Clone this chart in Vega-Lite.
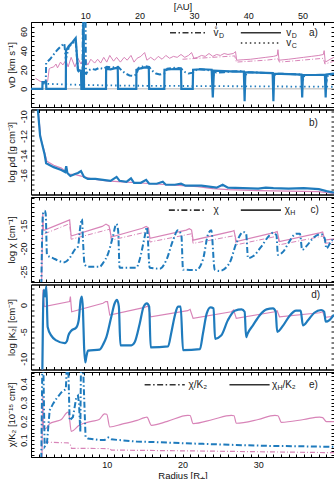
{
"$schema": "https://vega.github.io/schema/vega-lite/v6.json",
"padding": {"left": 5, "top": 0, "right": 0, "bottom": 0},
"spacing": 2.5,
"bounds": "flush",
"config": {
  "font": "Liberation Sans",
  "view": {"stroke": "#000", "strokeWidth": 1},
  "axis": {"grid": false, "labelFontSize": 9, "titleFontSize": 9.5, "titleFontWeight": "normal", "tickSize": -3, "labelPadding": 6, "titlePadding": 3, "domainColor": "#000", "tickColor": "#000", "labelColor": "#111", "titleColor": "#111", "labelOverlap": false, "labelFlush": false},
  "axisLeft": {"labelAngle": -90, "labelAlign": "center", "labelBaseline": "bottom"}
},
"datasets": {
  "one": [{}],
  "aVD": [{"r":0,"v":0},{"r":1.5,"v":0},{"r":1.52,"v":7},{"r":2.0,"v":7},{"r":2.02,"v":0},{"r":4.6,"v":0},{"r":4.62,"v":40},{"r":5.0,"v":45},{"r":5.5,"v":49},{"r":5.9,"v":53},{"r":6.2,"v":20},{"r":6.6,"v":19},{"r":6.65,"v":0},{"r":6.85,"v":0},{"r":6.9,"v":75},{"r":6.95,"v":75},{"r":7.0,"v":0},{"r":9.9,"v":0},{"r":9.92,"v":21},{"r":10.5,"v":20.5},{"r":11.0,"v":21.5},{"r":11.45,"v":22},{"r":11.5,"v":0},{"r":13.9,"v":0},{"r":13.92,"v":20},{"r":14.5,"v":21.5},{"r":15.0,"v":22.5},{"r":15.55,"v":22},{"r":15.6,"v":0},{"r":17.6,"v":0},{"r":17.62,"v":20},{"r":18.5,"v":20.5},{"r":19.2,"v":21},{"r":19.8,"v":20.5},{"r":19.85,"v":0},{"r":21.35,"v":0},{"r":21.4,"v":20},{"r":22.5,"v":20.5},{"r":23.85,"v":20},{"r":24.0,"v":-9},{"r":24.15,"v":19},{"r":25.5,"v":18.5},{"r":27,"v":18},{"r":28.1,"v":18},{"r":28.2,"v":-13},{"r":28.3,"v":17.5},{"r":30,"v":17},{"r":31.9,"v":16.5},{"r":32.0,"v":-13},{"r":32.1,"v":16},{"r":34,"v":15.5},{"r":35.7,"v":15},{"r":35.8,"v":-9},{"r":35.9,"v":14.5},{"r":37.5,"v":14.5},{"r":38.8,"v":15},{"r":38.9,"v":-9},{"r":39.0,"v":15},{"r":40,"v":16}],
  "aVDo": [{"r":1.5,"v":7},{"r":1.95,"v":7},{"r":2.0,"v":27},{"r":2.5,"v":31},{"r":3.0,"v":36},{"r":3.5,"v":41},{"r":4.0,"v":45},{"r":4.4,"v":47.5},{"r":4.6,"v":31},{"r":5.0,"v":44},{"r":5.5,"v":48},{"r":5.9,"v":50},{"r":6.2,"v":19},{"r":6.6,"v":15},{"r":6.8,"v":15},{"r":6.85,"v":75},{"r":7.2,"v":75},{"r":7.25,"v":15},{"r":7.5,"v":19},{"r":8.0,"v":21},{"r":8.5,"v":20},{"r":9.0,"v":22},{"r":9.5,"v":21},{"r":10.0,"v":23},{"r":10.8,"v":22.5},{"r":11.5,"v":23},{"r":12.0,"v":19},{"r":12.5,"v":16},{"r":13.0,"v":14},{"r":13.5,"v":13.5},{"r":13.9,"v":15},{"r":14.2,"v":22},{"r":15.0,"v":24},{"r":15.6,"v":23},{"r":16.0,"v":19},{"r":16.5,"v":16},{"r":17.0,"v":15},{"r":17.6,"v":16},{"r":18.0,"v":21},{"r":19.0,"v":22},{"r":19.8,"v":21.5},{"r":20.2,"v":18},{"r":20.8,"v":16},{"r":21.4,"v":17},{"r":22.0,"v":21},{"r":23.0,"v":20},{"r":23.9,"v":19},{"r":24.1,"v":14},{"r":24.4,"v":17},{"r":25.5,"v":17.5},{"r":27,"v":18.5},{"r":28.1,"v":18.5},{"r":28.25,"v":12},{"r":28.5,"v":17.5},{"r":30,"v":17},{"r":31.9,"v":16.5},{"r":32.05,"v":11},{"r":32.3,"v":16},{"r":34,"v":15.5},{"r":35.75,"v":15},{"r":35.9,"v":9},{"r":36.1,"v":14.5},{"r":38.0,"v":14.5},{"r":38.85,"v":14.5},{"r":38.95,"v":6},{"r":39.2,"v":14.5},{"r":40,"v":15.5}],
  "aVC": [{"r":1.6,"v":5.5},{"r":3,"v":5},{"r":6,"v":4.3},{"r":10,"v":3.6},{"r":15,"v":3.2},{"r":20,"v":3},{"r":25,"v":2.8},{"r":30,"v":2.6},{"r":35,"v":2.4},{"r":40,"v":2.2}],
  "aPink": [{"r":0.6,"v":11},{"r":1.2,"v":8},{"r":1.6,"v":7},{"r":2.2,"v":8},{"r":2.4,"v":21},{"r":2.6,"v":22},{"r":3.0,"v":23},{"r":3.3,"v":26},{"r":3.5,"v":22},{"r":3.9,"v":28},{"r":4.2,"v":25},{"r":4.6,"v":30},{"r":4.9,"v":23},{"r":5.3,"v":33},{"r":5.8,"v":23},{"r":6.2,"v":32},{"r":6.6,"v":26},{"r":7.0,"v":33},{"r":7.5,"v":25},{"r":7.9,"v":31},{"r":8.4,"v":27},{"r":8.8,"v":31},{"r":9.2,"v":27},{"r":9.6,"v":33},{"r":10.0,"v":28},{"r":10.4,"v":35},{"r":10.9,"v":29},{"r":11.3,"v":33},{"r":11.8,"v":28},{"r":12.3,"v":33},{"r":12.7,"v":30},{"r":13.2,"v":35},{"r":13.6,"v":28},{"r":14.0,"v":32},{"r":14.5,"v":34},{"r":15.0,"v":38},{"r":15.3,"v":30},{"r":15.8,"v":33},{"r":16.3,"v":30},{"r":16.8,"v":34},{"r":17.3,"v":31},{"r":17.8,"v":35},{"r":18.3,"v":32},{"r":18.8,"v":34},{"r":19.3,"v":33},{"r":19.8,"v":36},{"r":20.3,"v":33},{"r":20.8,"v":35},{"r":21.2,"v":38},{"r":21.5,"v":32},{"r":22,"v":33},{"r":22.5,"v":35},{"r":23,"v":34},{"r":23.5,"v":37},{"r":24,"v":34},{"r":24.5,"v":36},{"r":25,"v":35},{"r":25.5,"v":37},{"r":26,"v":36},{"r":26.7,"v":37},{"r":27.0,"v":39},{"r":27.15,"v":30},{"r":28,"v":30.5},{"r":29,"v":31},{"r":30,"v":32},{"r":31,"v":33},{"r":32,"v":34},{"r":32.5,"v":35},{"r":32.6,"v":41},{"r":32.75,"v":30},{"r":34,"v":31},{"r":35,"v":32},{"r":36,"v":33},{"r":37,"v":34},{"r":38,"v":35},{"r":38.6,"v":36},{"r":38.7,"v":40},{"r":38.85,"v":28},{"r":39.5,"v":31},{"r":40,"v":33}],
  "aPinkDD": [{"r":20,"v":31},{"r":22,"v":32},{"r":24,"v":33},{"r":26.9,"v":34.5},{"r":27.1,"v":28},{"r":29,"v":29},{"r":31,"v":30},{"r":32.6,"v":31.5},{"r":32.8,"v":28},{"r":35,"v":29.5},{"r":38.6,"v":32},{"r":38.8,"v":26},{"r":40,"v":29}],
  "bBlue": [{"r":0.85,"v":-8.8},{"r":1.2,"v":-12.0},{"r":1.8,"v":-13.9},{"r":2.0,"v":-14.8},{"r":2.5,"v":-15.0},{"r":3.0,"v":-15.2},{"r":4.0,"v":-15.5},{"r":4.5,"v":-15.7},{"r":4.65,"v":-15.1},{"r":4.8,"v":-15.8},{"r":5.2,"v":-16.1},{"r":5.8,"v":-15.9},{"r":6.2,"v":-15.8},{"r":6.6,"v":-15.6},{"r":7.0,"v":-16.2},{"r":7.5,"v":-16.4},{"r":8.5,"v":-16.4},{"r":9.5,"v":-16.5},{"r":10.5,"v":-16.6},{"r":11.3,"v":-16.2},{"r":11.7,"v":-16.6},{"r":12.6,"v":-16.7},{"r":13.2,"v":-16.35},{"r":13.6,"v":-16.8},{"r":14.5,"v":-16.8},{"r":15.2,"v":-16.5},{"r":15.6,"v":-16.9},{"r":16.6,"v":-16.9},{"r":17.4,"v":-16.7},{"r":17.8,"v":-17.0},{"r":19.0,"v":-17.0},{"r":19.8,"v":-16.9},{"r":20.4,"v":-17.1},{"r":22.5,"v":-17.1},{"r":23.5,"v":-17.2},{"r":24.5,"v":-17.3},{"r":25.3,"v":-17.0},{"r":26.0,"v":-17.3},{"r":28,"v":-17.35},{"r":30,"v":-17.4},{"r":31,"v":-17.3},{"r":32,"v":-17.35},{"r":34,"v":-17.4},{"r":36,"v":-17.35},{"r":38,"v":-17.45},{"r":39,"v":-17.65},{"r":40,"v":-17.8}],
  "bPink": [{"r":0.9,"v":-9.0},{"r":1.3,"v":-12.3},{"r":1.8,"v":-13.7},{"r":2.1,"v":-14.6},{"r":3.0,"v":-15.0},{"r":4.0,"v":-15.3},{"r":5.0,"v":-15.9},{"r":6.0,"v":-16.0},{"r":7.0,"v":-16.2},{"r":8.0,"v":-16.4},{"r":10,"v":-16.6},{"r":12,"v":-16.7},{"r":14,"v":-16.8},{"r":16,"v":-16.9},{"r":18,"v":-17.0},{"r":20,"v":-17.1},{"r":22,"v":-17.2},{"r":24,"v":-17.4},{"r":26,"v":-17.5},{"r":28,"v":-17.55},{"r":30,"v":-17.6},{"r":34,"v":-17.65},{"r":38,"v":-17.7},{"r":40,"v":-17.9}],
  "cBlue": [{"r":1.36,"v":-28},{"r":1.58,"v":-12.5},{"r":1.8,"v":-11.8},{"r":1.94,"v":-12.5},{"r":2.11,"v":-21.4},{"r":2.9,"v":-22.1},{"r":4.44,"v":-23.0},{"r":5.1,"v":-22.1},{"r":5.76,"v":-20.3},{"r":6.2,"v":-19.6},{"r":6.5,"v":-15.35},{"r":6.73,"v":-13.6},{"r":6.86,"v":-18.2},{"r":7.08,"v":-23.5},{"r":7.52,"v":-24.0},{"r":9.06,"v":-24.0},{"r":9.5,"v":-23.2},{"r":10.2,"v":-21.0},{"r":10.8,"v":-17.5},{"r":11.27,"v":-14.65},{"r":11.5,"v":-16.06},{"r":11.7,"v":-24.2},{"r":13.9,"v":-24.2},{"r":14.35,"v":-22.4},{"r":15.0,"v":-17.5},{"r":15.3,"v":-15.35},{"r":15.67,"v":-24.2},{"r":17.0,"v":-24.4},{"r":17.9,"v":-22.4},{"r":18.75,"v":-18.2},{"r":19.4,"v":-16.06},{"r":19.85,"v":-17.1},{"r":20.07,"v":-24.6},{"r":21.8,"v":-24.7},{"r":22.7,"v":-22.4},{"r":23.4,"v":-16.8},{"r":23.8,"v":-16.06},{"r":24.25,"v":-24.6},{"r":24.9,"v":-24.9},{"r":26.2,"v":-23.2},{"r":27.1,"v":-18.9},{"r":28.0,"v":-16.4},{"r":28.4,"v":-16.8},{"r":28.65,"v":-22.1},{"r":29.3,"v":-21.7},{"r":30.4,"v":-19.6},{"r":31.5,"v":-17.1},{"r":31.95,"v":-16.6},{"r":32.4,"v":-17.1},{"r":32.6,"v":-21.4},{"r":33.3,"v":-20.7},{"r":34.1,"v":-18.5},{"r":35.0,"v":-16.8},{"r":35.5,"v":-16.8},{"r":35.8,"v":-20.3},{"r":36.3,"v":-19.6},{"r":37.4,"v":-17.5},{"r":38.3,"v":-16.9},{"r":38.77,"v":-17.8},{"r":39.0,"v":-20.0},{"r":39.6,"v":-18.5},{"r":40,"v":-17.8}],
  "cPink": [{"r":1.4,"v":-28},{"r":1.55,"v":-12.5},{"r":1.65,"v":-16.0},{"r":1.8,"v":-16.0},{"r":5.1,"v":-13.8},{"r":5.3,"v":-17.3},{"r":9.4,"v":-15.2},{"r":9.9,"v":-14.7},{"r":10.3,"v":-15.1},{"r":10.6,"v":-17.5},{"r":14.7,"v":-15.6},{"r":15.2,"v":-15.2},{"r":15.5,"v":-15.5},{"r":15.7,"v":-17.8},{"r":20.5,"v":-16.0},{"r":20.9,"v":-15.7},{"r":21.2,"v":-16.0},{"r":21.4,"v":-18.2},{"r":26.5,"v":-16.3},{"r":26.8,"v":-16.1},{"r":27.1,"v":-18.5},{"r":32.2,"v":-16.5},{"r":32.5,"v":-16.3},{"r":32.8,"v":-18.5},{"r":38.1,"v":-16.6},{"r":38.5,"v":-16.4},{"r":38.8,"v":-18.2},{"r":40,"v":-17.9}],
  "cPinkDD": [{"r":1.8,"v":-16.8},{"r":5.1,"v":-14.6},{"r":5.3,"v":-18.0},{"r":10.4,"v":-15.8},{"r":10.6,"v":-18.2},{"r":15.5,"v":-16.3},{"r":15.7,"v":-18.6},{"r":21.2,"v":-16.8},{"r":21.4,"v":-18.9},{"r":26.9,"v":-17.2},{"r":27.1,"v":-19.2},{"r":32.6,"v":-17.3},{"r":32.8,"v":-19.2},{"r":38.6,"v":-17.3},{"r":38.8,"v":-18.9},{"r":40,"v":-18.6}],
  "dBlue": [{"r":1.5,"v":-12.5},{"r":1.67,"v":2.8},{"r":1.85,"v":1.6},{"r":2.02,"v":3.46},{"r":2.2,"v":-4.1},{"r":2.68,"v":-5.7},{"r":3.34,"v":-6.6},{"r":4.44,"v":-7.1},{"r":4.75,"v":-6.7},{"r":4.93,"v":-5.7},{"r":5.32,"v":-4.8},{"r":5.98,"v":-4.2},{"r":6.3,"v":-2.8},{"r":6.56,"v":0.94},{"r":6.73,"v":1.57},{"r":6.86,"v":-0.94},{"r":7.0,"v":-7.5},{"r":7.17,"v":-10.7},{"r":7.3,"v":-9.7},{"r":7.52,"v":-8.5},{"r":9.06,"v":-8.3},{"r":9.5,"v":-7.4},{"r":9.95,"v":-6.0},{"r":10.6,"v":-2.2},{"r":11.05,"v":0.31},{"r":11.35,"v":0.94},{"r":11.6,"v":-0.31},{"r":11.8,"v":-7.5},{"r":13.25,"v":-7.5},{"r":13.7,"v":-6.9},{"r":14.35,"v":-3.5},{"r":14.87,"v":-0.31},{"r":15.3,"v":0.31},{"r":15.6,"v":-0.31},{"r":15.8,"v":-7.9},{"r":18.1,"v":-7.7},{"r":18.5,"v":-5.3},{"r":19.0,"v":-1.9},{"r":19.4,"v":-0.31},{"r":19.76,"v":-0.31},{"r":20.07,"v":-8.4},{"r":22.3,"v":-8.2},{"r":22.7,"v":-5.3},{"r":23.2,"v":-1.57},{"r":23.7,"v":-0.44},{"r":24.1,"v":-0.63},{"r":24.3,"v":-6.3},{"r":25.1,"v":-5.7},{"r":26.0,"v":-2.8},{"r":26.9,"v":-1.07},{"r":27.8,"v":-0.82},{"r":28.2,"v":-1.26},{"r":28.4,"v":-6.0},{"r":28.6,"v":-5.3},{"r":29.3,"v":-3.8},{"r":30.2,"v":-1.9},{"r":31.1,"v":-0.82},{"r":31.95,"v":-0.63},{"r":32.3,"v":-1.26},{"r":32.5,"v":-5.0},{"r":33.3,"v":-3.8},{"r":34.1,"v":-2.1},{"r":35.0,"v":-1.07},{"r":35.6,"v":-1.07},{"r":35.9,"v":-3.8},{"r":36.6,"v":-2.8},{"r":37.4,"v":-1.45},{"r":38.3,"v":-0.94},{"r":38.7,"v":-1.26},{"r":38.9,"v":-3.1},{"r":39.4,"v":-2.8},{"r":40,"v":-1.8}],
  "dPink": [{"r":1.5,"v":-12.5},{"r":1.58,"v":2.83},{"r":1.76,"v":-0.31},{"r":5.1,"v":0.63},{"r":5.2,"v":1.57},{"r":5.37,"v":-1.26},{"r":9.5,"v":0.31},{"r":9.86,"v":0.63},{"r":10.1,"v":0.63},{"r":10.4,"v":-1.89},{"r":15.0,"v":-0.44},{"r":15.45,"v":-0.19},{"r":15.8,"v":-2.2},{"r":20.7,"v":-1.07},{"r":21.0,"v":-0.82},{"r":21.4,"v":-2.5},{"r":26.45,"v":-1.26},{"r":26.75,"v":-0.94},{"r":27.1,"v":-2.5},{"r":32.2,"v":-1.26},{"r":32.5,"v":-1.07},{"r":32.8,"v":-2.2},{"r":38.1,"v":-1.45},{"r":38.5,"v":-1.26},{"r":38.8,"v":-2.3},{"r":40,"v":-2.1}],
  "eBlue": [{"r":1.36,"v":0.0},{"r":1.5,"v":0.52},{"r":1.62,"v":0.52},{"r":1.8,"v":0.065},{"r":2.1,"v":0.082},{"r":2.46,"v":0.258},{"r":2.9,"v":0.293},{"r":3.34,"v":0.32},{"r":4.0,"v":0.354},{"r":4.6,"v":0.372},{"r":4.75,"v":0.52},{"r":4.9,"v":0.52},{"r":5.1,"v":0.205},{"r":5.54,"v":0.223},{"r":5.98,"v":0.328},{"r":6.2,"v":0.337},{"r":6.34,"v":0.293},{"r":6.51,"v":0.144},{"r":6.6,"v":0.52},{"r":6.85,"v":0.52},{"r":7.2,"v":0.118},{"r":7.52,"v":0.109},{"r":9.06,"v":0.1},{"r":9.7,"v":0.1},{"r":10.2,"v":0.114},{"r":10.6,"v":0.104},{"r":11.7,"v":0.1},{"r":13.9,"v":0.092},{"r":16.1,"v":0.09},{"r":18.3,"v":0.086},{"r":22.7,"v":0.08},{"r":27.1,"v":0.074},{"r":31.5,"v":0.069},{"r":35.9,"v":0.067},{"r":40,"v":0.064}],
  "ePink": [{"r":1.45,"v":0.0},{"r":1.55,"v":0.35},{"r":1.65,"v":0.16},{"r":1.85,"v":0.16},{"r":2.5,"v":0.188},{"r":3.3,"v":0.2},{"r":4.0,"v":0.21},{"r":4.88,"v":0.249},{"r":5.0,"v":0.24},{"r":5.32,"v":0.147},{"r":6.4,"v":0.18},{"r":8.0,"v":0.2},{"r":9.0,"v":0.21},{"r":9.7,"v":0.24},{"r":10.0,"v":0.238},{"r":10.4,"v":0.17},{"r":12,"v":0.185},{"r":14,"v":0.205},{"r":15.0,"v":0.22},{"r":15.3,"v":0.222},{"r":15.9,"v":0.179},{"r":18,"v":0.2},{"r":20.7,"v":0.232},{"r":21.0,"v":0.231},{"r":21.4,"v":0.188},{"r":24,"v":0.21},{"r":26.45,"v":0.232},{"r":26.8,"v":0.23},{"r":27.1,"v":0.19},{"r":30,"v":0.21},{"r":32.2,"v":0.232},{"r":32.6,"v":0.23},{"r":33.05,"v":0.195},{"r":36,"v":0.21},{"r":38.1,"v":0.223},{"r":38.5,"v":0.22},{"r":39.0,"v":0.198},{"r":40,"v":0.198}],
  "ePinkDD": [{"r":1.7,"v":0.09},{"r":4.9,"v":0.085},{"r":5.2,"v":0.075},{"r":5.35,"v":0.056},{"r":10.4,"v":0.055},{"r":10.6,"v":0.047},{"r":20,"v":0.043},{"r":30,"v":0.038},{"r":40,"v":0.033}]
},
"vconcat": [
{
  "width": 303, "height": 85,
  "resolve": {"axis": {"x": "independent", "y": "independent"}},
  "layer": [
    {"data": {"name": "one"}, "mark": {"type": "rule", "color": "#b4b4b4", "strokeWidth": 1}, "encoding": {"y": {"datum": 0, "type": "quantitative", "axis": null}}},
    {"data": {"name": "aPink"}, "mark": {"type": "line", "color": "#d884b8", "strokeWidth": 1, "clip": true},
     "encoding": {
       "x": {"field": "r", "type": "quantitative", "scale": {"domain": [0, 40], "nice": false, "zero": false}, "axis": {"orient": "bottom", "values": [1,2,3,4,5,6,7,8,9,10,11,12,13,14,15,16,17,18,19,20,21,22,23,24,25,26,27,28,29,30,31,32,33,34,35,36,37,38,39], "labels": false, "title": null}},
       "y": {"field": "v", "type": "quantitative", "scale": {"domain": [-19, 70], "nice": false, "zero": false}, "axis": {"orient": "left", "values": [-15,-10,-5,0,5,10,15,20,25,30,35,40,45,50,55,60,65], "labelExpr": "datum.value % 20 === 0 ? '' + datum.value : ''", "title": "vD [km s⁻¹]"}}}},
    {"data": {"name": "aPinkDD"}, "mark": {"type": "line", "color": "#d884b8", "strokeWidth": 1, "strokeDash": [5, 2, 1, 2], "clip": true},
     "encoding": {
       "x": {"field": "r", "type": "quantitative", "axis": {"orient": "top", "values": [1.434,2.867,4.301,5.735,7.168,8.602,10.036,11.470,12.903,14.337,15.771,17.204,18.638,20.072,21.505,22.939,24.373,25.806,27.240,28.674,30.108,31.541,32.975,34.409,35.842,37.276,38.710], "labelExpr": "round(datum.value * 1.395) % 10 === 0 ? '' + round(datum.value * 1.395) : ''", "labelPadding": 5, "title": "[AU]", "titlePadding": 0}},
       "y": {"field": "v", "type": "quantitative", "axis": {"orient": "right", "values": [-15,-10,-5,0,5,10,15,20,25,30,35,40,45,50,55,60,65], "labels": false, "title": null}}}},
    {"data": {"name": "aVC"}, "mark": {"type": "line", "color": "#1f7bbd", "strokeWidth": 1.8, "strokeDash": [1.5, 3], "clip": true},
     "encoding": {"x": {"field": "r", "type": "quantitative", "axis": null}, "y": {"field": "v", "type": "quantitative", "axis": null}}},
    {"data": {"name": "aVDo"}, "mark": {"type": "line", "color": "#1f7bbd", "strokeWidth": 2, "strokeDash": [6, 2.5, 1.5, 2.5], "clip": true},
     "encoding": {"x": {"field": "r", "type": "quantitative", "axis": null}, "y": {"field": "v", "type": "quantitative", "axis": null}}},
    {"data": {"name": "aVD"}, "mark": {"type": "line", "color": "#1f7bbd", "strokeWidth": 2.2, "clip": true},
     "encoding": {"x": {"field": "r", "type": "quantitative", "axis": null}, "y": {"field": "v", "type": "quantitative", "axis": null}}},
    {"data": {"name": "one"}, "mark": {"type": "rule", "color": "#333", "strokeWidth": 1.6, "strokeDash": [6, 2.5, 1.5, 2.5]},
     "encoding": {"x": {"datum": 18.35, "type": "quantitative", "axis": null}, "x2": {"datum": 23.1}, "y": {"datum": 58.8, "type": "quantitative", "axis": null}}},
    {"data": {"name": "one"}, "mark": {"type": "rule", "color": "#333", "strokeWidth": 1.6},
     "encoding": {"x": {"datum": 27.7, "type": "quantitative", "axis": null}, "x2": {"datum": 33.0}, "y": {"datum": 58.8, "type": "quantitative", "axis": null}}},
    {"data": {"name": "one"}, "mark": {"type": "rule", "color": "#333", "strokeWidth": 1.6, "strokeDash": [1.5, 3]},
     "encoding": {"x": {"datum": 27.7, "type": "quantitative", "axis": null}, "x2": {"datum": 33.0}, "y": {"datum": 48, "type": "quantitative", "axis": null}}},
    {"data": {"name": "one"}, "mark": {"type": "text", "text": "v̊", "align": "left", "baseline": "middle", "fontSize": 10, "color": "#222"},
     "encoding": {"x": {"datum": 24.1, "type": "quantitative", "axis": null}, "y": {"datum": 58.8, "type": "quantitative", "axis": null}}},
    {"data": {"name": "one"}, "mark": {"type": "text", "text": "D", "align": "left", "baseline": "middle", "fontSize": 7, "dx": 5.5, "dy": 3, "color": "#222"},
     "encoding": {"x": {"datum": 24.1, "type": "quantitative", "axis": null}, "y": {"datum": 58.8, "type": "quantitative", "axis": null}}},
    {"data": {"name": "one"}, "mark": {"type": "text", "text": "v", "align": "left", "baseline": "middle", "fontSize": 10, "color": "#222"},
     "encoding": {"x": {"datum": 33.7, "type": "quantitative", "axis": null}, "y": {"datum": 58.8, "type": "quantitative", "axis": null}}},
    {"data": {"name": "one"}, "mark": {"type": "text", "text": "D", "align": "left", "baseline": "middle", "fontSize": 7, "dx": 5.5, "dy": 3, "color": "#222"},
     "encoding": {"x": {"datum": 33.7, "type": "quantitative", "axis": null}, "y": {"datum": 58.8, "type": "quantitative", "axis": null}}},
    {"data": {"name": "one"}, "mark": {"type": "text", "text": "v", "align": "left", "baseline": "middle", "fontSize": 10, "color": "#222"},
     "encoding": {"x": {"datum": 33.7, "type": "quantitative", "axis": null}, "y": {"datum": 48, "type": "quantitative", "axis": null}}},
    {"data": {"name": "one"}, "mark": {"type": "text", "text": "C", "align": "left", "baseline": "middle", "fontSize": 7, "dx": 5.5, "dy": 3, "color": "#222"},
     "encoding": {"x": {"datum": 33.7, "type": "quantitative", "axis": null}, "y": {"datum": 48, "type": "quantitative", "axis": null}}},
    {"data": {"name": "one"}, "mark": {"type": "text", "text": "a)", "align": "left", "baseline": "middle", "fontSize": 10, "color": "#222"},
     "encoding": {"x": {"datum": 36.7, "type": "quantitative", "axis": null}, "y": {"datum": 58.8, "type": "quantitative", "axis": null}}}
  ]
},
{
  "width": 303, "height": 85,
  "resolve": {"axis": {"x": "independent", "y": "independent"}},
  "layer": [
    {"data": {"name": "bPink"}, "mark": {"type": "line", "color": "#d884b8", "strokeWidth": 1.2, "clip": true},
     "encoding": {
       "x": {"field": "r", "type": "quantitative", "scale": {"domain": [0, 40], "nice": false, "zero": false}, "axis": {"orient": "bottom", "values": [1,2,3,4,5,6,7,8,9,10,11,12,13,14,15,16,17,18,19,20,21,22,23,24,25,26,27,28,29,30,31,32,33,34,35,36,37,38,39], "labels": false, "title": null}},
       "y": {"field": "v", "type": "quantitative", "scale": {"domain": [-18, -9.3], "nice": false, "zero": false}, "axis": {"orient": "left", "values": [-17.5,-17,-16.5,-16,-15.5,-15,-14.5,-14,-13.5,-13,-12.5,-12,-11.5,-11,-10.5,-10,-9.5], "labelExpr": "datum.value % 2 === 0 && datum.value > -17 ? '' + datum.value : ''", "title": "log ρd [g cm⁻³]"}}}},
    {"data": {"name": "bBlue"}, "mark": {"type": "line", "color": "#1f7bbd", "strokeWidth": 2.2, "clip": true},
     "encoding": {
       "x": {"field": "r", "type": "quantitative", "axis": {"orient": "top", "values": [1,2,3,4,5,6,7,8,9,10,11,12,13,14,15,16,17,18,19,20,21,22,23,24,25,26,27,28,29,30,31,32,33,34,35,36,37,38,39], "labels": false, "title": null}},
       "y": {"field": "v", "type": "quantitative", "axis": {"orient": "right", "values": [-17.5,-17,-16.5,-16,-15.5,-15,-14.5,-14,-13.5,-13,-12.5,-12,-11.5,-11,-10.5,-10,-9.5], "labels": false, "title": null}}}},
    {"data": {"name": "one"}, "mark": {"type": "text", "text": "b)", "align": "left", "baseline": "middle", "fontSize": 10, "color": "#222"},
     "encoding": {"x": {"datum": 36.7, "type": "quantitative", "axis": null}, "y": {"datum": -10.7, "type": "quantitative", "axis": null}}}
  ]
},
{
  "width": 303, "height": 85,
  "resolve": {"axis": {"x": "independent", "y": "independent"}},
  "layer": [
    {"data": {"name": "cPinkDD"}, "mark": {"type": "line", "color": "#d884b8", "strokeWidth": 1, "strokeDash": [5, 2, 1, 2], "clip": true},
     "encoding": {
       "x": {"field": "r", "type": "quantitative", "scale": {"domain": [0, 40], "nice": false, "zero": false}, "axis": {"orient": "bottom", "values": [1,2,3,4,5,6,7,8,9,10,11,12,13,14,15,16,17,18,19,20,21,22,23,24,25,26,27,28,29,30,31,32,33,34,35,36,37,38,39], "labels": false, "title": null}},
       "y": {"field": "v", "type": "quantitative", "scale": {"domain": [-27.3, -8.8], "nice": false, "zero": false}, "axis": {"orient": "left", "values": [-27,-26,-25,-24,-23,-22,-21,-20,-19,-18,-17,-16,-15,-14,-13,-12,-11,-10,-9], "labelExpr": "datum.value % 5 === 0 && datum.value <= -15 ? '' + datum.value : ''", "title": "log χ [cm⁻¹]"}}}},
    {"data": {"name": "cPink"}, "mark": {"type": "line", "color": "#d884b8", "strokeWidth": 1.2, "clip": true},
     "encoding": {
       "x": {"field": "r", "type": "quantitative", "axis": {"orient": "top", "values": [1,2,3,4,5,6,7,8,9,10,11,12,13,14,15,16,17,18,19,20,21,22,23,24,25,26,27,28,29,30,31,32,33,34,35,36,37,38,39], "labels": false, "title": null}},
       "y": {"field": "v", "type": "quantitative", "axis": {"orient": "right", "values": [-27,-26,-25,-24,-23,-22,-21,-20,-19,-18,-17,-16,-15,-14,-13,-12,-11,-10,-9], "labels": false, "title": null}}}},
    {"data": {"name": "cBlue"}, "mark": {"type": "line", "color": "#1f7bbd", "strokeWidth": 2, "strokeDash": [6, 2.5, 1.5, 2.5], "interpolate": "monotone", "clip": true},
     "encoding": {"x": {"field": "r", "type": "quantitative", "axis": null}, "y": {"field": "v", "type": "quantitative", "axis": null}}},
    {"data": {"name": "one"}, "mark": {"type": "rule", "color": "#333", "strokeWidth": 1.6, "strokeDash": [6, 2.5, 1.5, 2.5]},
     "encoding": {"x": {"datum": 18.2, "type": "quantitative", "axis": null}, "x2": {"datum": 23.1}, "y": {"datum": -11.66, "type": "quantitative", "axis": null}}},
    {"data": {"name": "one"}, "mark": {"type": "rule", "color": "#333", "strokeWidth": 1.6},
     "encoding": {"x": {"datum": 27.7, "type": "quantitative", "axis": null}, "x2": {"datum": 33.0}, "y": {"datum": -11.66, "type": "quantitative", "axis": null}}},
    {"data": {"name": "one"}, "mark": {"type": "text", "text": "χ", "align": "left", "baseline": "middle", "fontSize": 10, "color": "#222"},
     "encoding": {"x": {"datum": 24.1, "type": "quantitative", "axis": null}, "y": {"datum": -11.66, "type": "quantitative", "axis": null}}},
    {"data": {"name": "one"}, "mark": {"type": "text", "text": "χ", "align": "left", "baseline": "middle", "fontSize": 10, "color": "#222"},
     "encoding": {"x": {"datum": 33.5, "type": "quantitative", "axis": null}, "y": {"datum": -11.66, "type": "quantitative", "axis": null}}},
    {"data": {"name": "one"}, "mark": {"type": "text", "text": "H", "align": "left", "baseline": "middle", "fontSize": 7, "dx": 5.5, "dy": 3, "color": "#222"},
     "encoding": {"x": {"datum": 33.5, "type": "quantitative", "axis": null}, "y": {"datum": -11.66, "type": "quantitative", "axis": null}}},
    {"data": {"name": "one"}, "mark": {"type": "text", "text": "c)", "align": "left", "baseline": "middle", "fontSize": 10, "color": "#222"},
     "encoding": {"x": {"datum": 36.9, "type": "quantitative", "axis": null}, "y": {"datum": -11.66, "type": "quantitative", "axis": null}}}
  ]
},
{
  "width": 303, "height": 85,
  "resolve": {"axis": {"x": "independent", "y": "independent"}},
  "layer": [
    {"data": {"name": "dPink"}, "mark": {"type": "line", "color": "#d884b8", "strokeWidth": 1.2, "clip": true},
     "encoding": {
       "x": {"field": "r", "type": "quantitative", "scale": {"domain": [0, 40], "nice": false, "zero": false}, "axis": {"orient": "bottom", "values": [1,2,3,4,5,6,7,8,9,10,11,12,13,14,15,16,17,18,19,20,21,22,23,24,25,26,27,28,29,30,31,32,33,34,35,36,37,38,39], "labels": false, "title": null}},
       "y": {"field": "v", "type": "quantitative", "scale": {"domain": [-12, 3.8], "nice": false, "zero": false}, "axis": {"orient": "left", "values": [-11,-10,-9,-8,-7,-6,-5,-4,-3,-2,-1,0,1,2,3], "labelExpr": "datum.value % 5 === 0 ? '' + datum.value : ''", "title": "log |K₂| [cm⁻³]"}}}},
    {"data": {"name": "dBlue"}, "mark": {"type": "line", "color": "#1f7bbd", "strokeWidth": 2.2, "interpolate": "monotone", "clip": true},
     "encoding": {
       "x": {"field": "r", "type": "quantitative", "axis": {"orient": "top", "values": [1,2,3,4,5,6,7,8,9,10,11,12,13,14,15,16,17,18,19,20,21,22,23,24,25,26,27,28,29,30,31,32,33,34,35,36,37,38,39], "labels": false, "title": null}},
       "y": {"field": "v", "type": "quantitative", "axis": {"orient": "right", "values": [-11,-10,-9,-8,-7,-6,-5,-4,-3,-2,-1,0,1,2,3], "labels": false, "title": null}}}},
    {"data": {"name": "one"}, "mark": {"type": "text", "text": "d)", "align": "left", "baseline": "middle", "fontSize": 10, "color": "#222"},
     "encoding": {"x": {"datum": 37.0, "type": "quantitative", "axis": null}, "y": {"datum": 1.9, "type": "quantitative", "axis": null}}}
  ]
},
{
  "width": 303, "height": 85,
  "resolve": {"axis": {"x": "independent", "y": "independent"}},
  "layer": [
    {"data": {"name": "ePinkDD"}, "mark": {"type": "line", "color": "#d884b8", "strokeWidth": 1.2, "strokeDash": [5, 2, 1, 2], "clip": true},
     "encoding": {
       "x": {"field": "r", "type": "quantitative", "scale": {"domain": [0, 40], "nice": false, "zero": false}, "axis": {"orient": "bottom", "values": [1,2,3,4,5,6,7,8,9,10,11,12,13,14,15,16,17,18,19,20,21,22,23,24,25,26,27,28,29,30,31,32,33,34,35,36,37,38,39], "labelExpr": "datum.value % 10 === 0 ? '' + datum.value : ''", "title": "Radius [R⁎]", "titlePadding": 1}},
       "y": {"field": "v", "type": "quantitative", "scale": {"domain": [0.01, 0.463], "nice": false, "zero": false}, "axis": {"orient": "left", "values": [0.02,0.04,0.06,0.08,0.1,0.12,0.14,0.16,0.18,0.2,0.22,0.24,0.26,0.28,0.3,0.32,0.34,0.36,0.38,0.4,0.42,0.44,0.46], "labelExpr": "abs(datum.value * 10 - round(datum.value * 10)) < 0.001 ? format(datum.value, '.1f') : ''", "title": "χ/K₂ [10⁻¹⁵ cm²]"}}}},
    {"data": {"name": "ePink"}, "mark": {"type": "line", "color": "#d884b8", "strokeWidth": 1.2, "interpolate": "monotone", "clip": true},
     "encoding": {
       "x": {"field": "r", "type": "quantitative", "axis": {"orient": "top", "values": [1,2,3,4,5,6,7,8,9,10,11,12,13,14,15,16,17,18,19,20,21,22,23,24,25,26,27,28,29,30,31,32,33,34,35,36,37,38,39], "labels": false, "title": null}},
       "y": {"field": "v", "type": "quantitative", "axis": {"orient": "right", "values": [0.02,0.04,0.06,0.08,0.1,0.12,0.14,0.16,0.18,0.2,0.22,0.24,0.26,0.28,0.3,0.32,0.34,0.36,0.38,0.4,0.42,0.44,0.46], "labels": false, "title": null}}}},
    {"data": {"name": "eBlue"}, "mark": {"type": "line", "color": "#1f7bbd", "strokeWidth": 2, "strokeDash": [6, 2.5, 1.5, 2.5], "clip": true},
     "encoding": {"x": {"field": "r", "type": "quantitative", "axis": null}, "y": {"field": "v", "type": "quantitative", "axis": null}}},
    {"data": {"name": "one"}, "mark": {"type": "rule", "color": "#333", "strokeWidth": 1.6, "strokeDash": [6, 2.5, 1.5, 2.5]},
     "encoding": {"x": {"datum": 15.0, "type": "quantitative", "axis": null}, "x2": {"datum": 20.3}, "y": {"datum": 0.395, "type": "quantitative", "axis": null}}},
    {"data": {"name": "one"}, "mark": {"type": "rule", "color": "#333", "strokeWidth": 1.6},
     "encoding": {"x": {"datum": 26.2, "type": "quantitative", "axis": null}, "x2": {"datum": 31.5}, "y": {"datum": 0.395, "type": "quantitative", "axis": null}}},
    {"data": {"name": "one"}, "mark": {"type": "text", "text": "χ/K₂", "align": "left", "baseline": "middle", "fontSize": 10, "color": "#222"},
     "encoding": {"x": {"datum": 20.8, "type": "quantitative", "axis": null}, "y": {"datum": 0.395, "type": "quantitative", "axis": null}}},
    {"data": {"name": "one"}, "mark": {"type": "text", "text": "χ", "align": "left", "baseline": "middle", "fontSize": 10, "color": "#222"},
     "encoding": {"x": {"datum": 31.8, "type": "quantitative", "axis": null}, "y": {"datum": 0.395, "type": "quantitative", "axis": null}}},
    {"data": {"name": "one"}, "mark": {"type": "text", "text": "H", "align": "left", "baseline": "middle", "fontSize": 7, "dx": 5.5, "dy": 3, "color": "#222"},
     "encoding": {"x": {"datum": 31.8, "type": "quantitative", "axis": null}, "y": {"datum": 0.395, "type": "quantitative", "axis": null}}},
    {"data": {"name": "one"}, "mark": {"type": "text", "text": "/K₂", "align": "left", "baseline": "middle", "fontSize": 10, "dx": 10.5, "color": "#222"},
     "encoding": {"x": {"datum": 31.8, "type": "quantitative", "axis": null}, "y": {"datum": 0.395, "type": "quantitative", "axis": null}}},
    {"data": {"name": "one"}, "mark": {"type": "text", "text": "e)", "align": "left", "baseline": "middle", "fontSize": 10, "color": "#222"},
     "encoding": {"x": {"datum": 36.7, "type": "quantitative", "axis": null}, "y": {"datum": 0.395, "type": "quantitative", "axis": null}}}
  ]
}
]
}
